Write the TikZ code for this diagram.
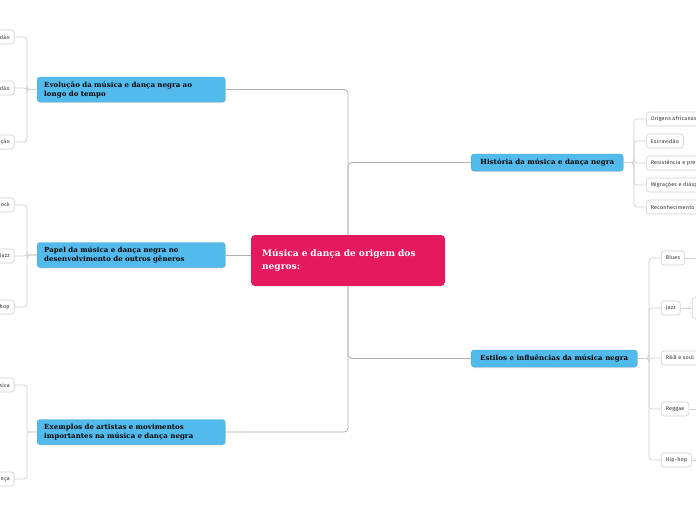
\documentclass[tikz,border=0pt]{standalone}
\usepackage{fontspec}
\setmainfont{Fira Sans}
\newfontfamily\leaffont{Fira Sans}[LetterSpace=4.0]
\newfontfamily\slab{DejaVu Serif}[LetterSpace=1.0]
\usetikzlibrary{shadows}
\definecolor{pinkc}{RGB}{229,25,94}
\definecolor{bluec}{RGB}{82,187,236}
\definecolor{blueb}{RGB}{62,165,215}
\definecolor{linec}{RGB}{176,176,176}
\definecolor{leafb}{RGB}{208,208,208}
\definecolor{leaft}{RGB}{50,50,50}
\begin{document}
\begin{tikzpicture}[x=1pt,y=-1pt,
  central/.style={rectangle, rounded corners=4pt, fill=pinkc, text=white,
    font=\slab\bfseries\fontsize{9}{13}\selectfont, text width=172pt, align=left,
    inner xsep=11pt, minimum height=51pt},
  branch/.style={rectangle, rounded corners=3pt, fill=bluec, draw=blueb, line width=0.4pt,
    font=\slab\bfseries\fontsize{7}{9}\selectfont,
    drop shadow={opacity=0.25, shadow xshift=0.4pt, shadow yshift=-1pt}},
  twoline/.style={branch, text width=174pt, inner xsep=7pt, align=left, minimum height=25pt},
  oneline/.style={branch, inner xsep=6pt, minimum height=17pt, align=center},
  leaf/.style={rectangle, rounded corners=3pt, draw=leafb, fill=white, line width=0.6pt,
    font=\leaffont\fontsize{5.4}{6}\selectfont, text=leaft, minimum height=14pt, inner xsep=4.5pt},
  conn/.style={draw=linec, line width=0.8pt, rounded corners=4pt},
  leafconn/.style={draw=leafb, line width=0.7pt, rounded corners=3pt}]
\useasboundingbox (0,0) rectangle (696,520);
\clip (0,0) rectangle (696,520);

% central
\node[central] (c) at (348,260.5) {Música e dança de origem dos\\negros:};

% branches
\node[twoline, anchor=west] (b1) at (37,89.5) {Evolução da música e dança negra ao\\longo do tempo};
\node[twoline, anchor=west] (b2) at (37,255) {Papel da música e dança negra no\\desenvolvimento de outros gêneros};
\node[twoline, anchor=west] (b3) at (37,432) {Exemplos de artistas e movimentos\\importantes na música e dança negra};
\node[oneline, anchor=west, minimum width=152pt] (b4) at (471,162.5) {História da música e dança negra};
\node[oneline, anchor=west, minimum width=166pt] (b5) at (471,358.5) {Estilos e influências da música negra};

% main connectors
\draw[conn] (c.north) |- (b1.east);
\draw[conn] (c.west |- b2.east) -- (b2.east);
\draw[conn] (c.south) |- (b3.east);
\draw[conn] (c.north) |- (b4.west);
\draw[conn] (c.south) |- (b5.west);

% left leaves: Evolução
\coordinate (j1) at (27,89.5);
\node[leaf, anchor=east] (l11) at (14.5,37) {Escravidão};
\node[leaf, anchor=east] (l12) at (14.5,88) {Pós-escravidão};
\node[leaf, anchor=east] (l13) at (14.5,142) {Globalização};
\foreach \n in {l11,l12,l13} \draw[leafconn] (b1.west) -- (j1) |- (\n.east);

% left leaves: Papel
\coordinate (j2) at (27,255);
\node[leaf, anchor=east] (l21) at (14.5,205) {Rock};
\node[leaf, anchor=east] (l22) at (14.5,256) {Jazz};
\node[leaf, anchor=east] (l23) at (14.5,307) {Hip-hop};
\foreach \n in {l21,l22,l23} \draw[leafconn] (b2.west) -- (j2) |- (\n.east);

% left leaves: Exemplos
\coordinate (j3) at (27,432);
\node[leaf, anchor=east] (l31) at (14.5,385) {Música};
\node[leaf, anchor=east] (l32) at (14.5,479) {Dança};
\foreach \n in {l31,l32} \draw[leafconn] (b3.west) -- (j3) |- (\n.east);

% right leaves: História
\coordinate (j4) at (634,162.5);
\node[leaf, anchor=west] (h1) at (646,119) {Origens africanas};
\node[leaf, anchor=west] (h2) at (646,141) {Escravidão};
\node[leaf, anchor=west] (h3) at (646,163) {Resistência e preservação};
\node[leaf, anchor=west] (h4) at (646,185) {Migrações e diáspora};
\node[leaf, anchor=west] (h5) at (646,207) {Reconhecimento};
\foreach \n in {h1,h2,h3,h4,h5} \draw[leafconn] (b4.east) -- (j4) |- (\n.west);

% right leaves: Estilos
\coordinate (j5) at (649,358.5);
\node[leaf, anchor=west] (s1) at (661,258) {Blues};
\node[leaf, anchor=west] (s2) at (661,308) {Jazz};
\node[leaf, anchor=west] (s3) at (661,358) {R\&B e soul};
\node[leaf, anchor=west] (s4) at (661,409) {Reggae};
\node[leaf, anchor=west] (s5) at (661,460) {Hip-hop};
\foreach \n in {s1,s2,s3,s4,s5} \draw[leafconn] (b5.east) -- (j5) |- (\n.west);

% continuations off the right edge
\node[leaf, anchor=west, minimum height=22pt, minimum width=30pt] (jc) at (692,308) {};
\coordinate (e1) at (698,258);
\coordinate (e4) at (698,409);
\coordinate (e5) at (698,460);
\draw[leafconn] (s1.east) -- (e1);
\draw[leafconn] (s2.east) -- (jc.west);
\draw[leafconn] (s4.east) -- (e4);
\draw[leafconn] (s5.east) -- (e5);
\end{tikzpicture}
\end{document}
